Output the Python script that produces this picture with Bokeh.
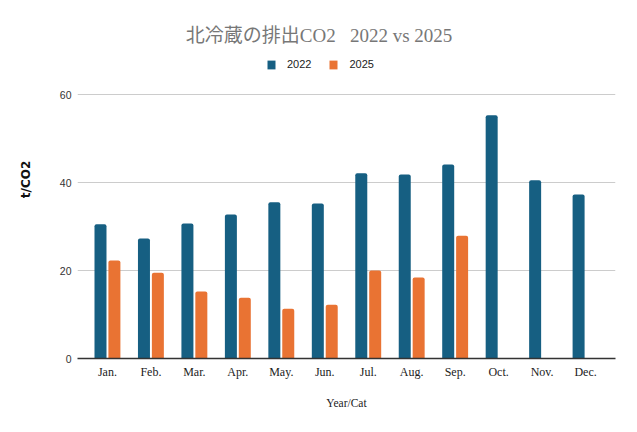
from bokeh.plotting import figure
from bokeh.models import ColumnDataSource, FactorRange, FixedTicker, Legend, LegendItem, Label
from bokeh.transform import dodge
from bokeh.embed import file_html
from bokeh.resources import INLINE

months = ["Jan.", "Feb.", "Mar.", "Apr.", "May.", "Jun.", "Jul.", "Aug.", "Sep.", "Oct.", "Nov.", "Dec."]
vals_2022 = [30.5, 27.3, 30.7, 32.7, 35.5, 35.2, 42.1, 41.8, 44.1, 55.3, 40.5, 37.3]
months_2025 = ["Jan.", "Feb.", "Mar.", "Apr.", "May.", "Jun.", "Jul.", "Aug.", "Sep."]
vals_2025 = [22.3, 19.5, 15.2, 13.8, 11.3, 12.2, 20.0, 18.4, 27.9]
y_ticks = [0, 20, 40, 60]
title_text = "北冷蔵の排出CO2\u00a0\u00a0\u00a02022 vs 2025"

BLUE = "#165f82"
ORANGE = "#e97333"

W, H = 635, 430
FRAME_L, FRAME_R, FRAME_B = 77, 615, 358
PX_PER_UNIT = 264 / 60.0  # 60 units span 264 px in the reference

src22 = ColumnDataSource(dict(m=months, v=vals_2022))
src25 = ColumnDataSource(dict(m=months_2025, v=vals_2025))

xr = FactorRange(factors=months, range_padding=0.189, range_padding_units="absolute")
# frame extends to the canvas top so title and legend can live inside it
y_top = FRAME_B / PX_PER_UNIT
p = figure(width=W, height=H, x_range=xr, y_range=(0, y_top),
           output_backend="svg", toolbar_location=None,
           min_border_left=FRAME_L, min_border_right=W - FRAME_R,
           min_border_top=0, min_border_bottom=H - FRAME_B)
p.outline_line_color = None

r22 = p.vbar(x=dodge("m", -0.16, range=p.x_range), top="v", width=0.276, source=src22,
             fill_color=BLUE, line_color=None, border_radius=(2, 2, 0, 0))
r25 = p.vbar(x=dodge("m", 0.16, range=p.x_range), top="v", width=0.276, source=src25,
             fill_color=ORANGE, line_color=None, border_radius=(2, 2, 0, 0))

p.xgrid.grid_line_color = None
p.ygrid.grid_line_color = "#cccccc"
p.ygrid.ticker = FixedTicker(ticks=y_ticks)

p.yaxis.ticker = FixedTicker(ticks=y_ticks)
p.yaxis.axis_line_color = None
p.yaxis.major_tick_line_color = None
p.yaxis.minor_tick_line_color = None
p.yaxis.major_tick_out = 0
p.yaxis.major_tick_in = 0
p.yaxis.major_label_standoff = 6
p.yaxis.major_label_text_font = "Liberation Sans"
p.yaxis.major_label_text_font_size = "10.5px"
p.yaxis.major_label_text_color = "#333333"
p.yaxis.axis_label = "t/CO2"
p.yaxis.axis_label_text_font = "DejaVu Sans"
p.yaxis.axis_label_text_font_style = "bold"
p.yaxis.axis_label_text_font_size = "12px"
p.yaxis.axis_label_text_color = "#111111"
p.yaxis.axis_label_standoff = 24

p.xaxis.axis_line_color = "#333333"
p.xaxis.axis_line_width = 1.3
p.xaxis.major_tick_line_color = None
p.xaxis.minor_tick_line_color = None
p.xaxis.major_tick_out = 0
p.xaxis.major_tick_in = 0
p.xaxis.major_label_standoff = 6
p.xaxis.major_label_text_font = "Liberation Serif"
p.xaxis.major_label_text_font_size = "12px"
p.xaxis.major_label_text_color = "#222222"
p.xaxis.axis_label = "Year/Cat"
p.xaxis.axis_label_text_font = "Liberation Serif"
p.xaxis.axis_label_text_font_style = "normal"
p.xaxis.axis_label_text_font_size = "11.5px"
p.xaxis.axis_label_text_color = "#222222"
p.xaxis.axis_label_standoff = 15

legend = Legend(items=[LegendItem(label="2022", renderers=[r22]),
                       LegendItem(label="2025", renderers=[r25])],
                orientation="horizontal", location=(189, 288),
                glyph_width=10, glyph_height=11, label_height=11, label_standoff=11,
                spacing=17, padding=0, margin=0,
                border_line_color=None, background_fill_alpha=0,
                label_text_font="Liberation Sans", label_text_font_size="11px",
                label_text_color="#222222", label_text_baseline="middle")
p.add_layout(legend, "center")

title = Label(x=241.5, y=323, x_units="screen", y_units="screen",
              text=title_text,
              text_font="Liberation Serif, Noto Sans CJK JP", text_font_size="19px",
              text_color="#777777", text_align="center", text_baseline="middle")
p.add_layout(title)

open("out.html", "w").write(file_html(p, INLINE))
